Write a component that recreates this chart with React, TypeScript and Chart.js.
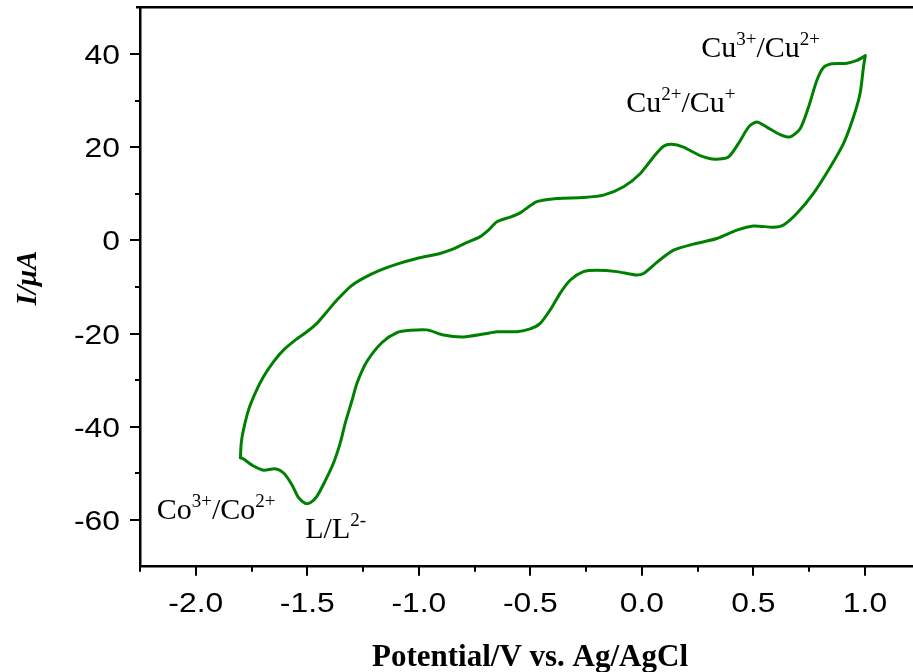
import { useEffect, useRef } from 'react';
import { Chart, registerables } from 'chart.js';

Chart.register(...registerables);

// Forward (anodic) scan: -1.8 V -> 1.0 V
const forwardPotential = [
  -1.800, -1.796, -1.786, -1.763, -1.733, -1.696, -1.651, -1.606, -1.554, -1.502,
  -1.457, -1.412, -1.367, -1.307, -1.248, -1.173, -1.098, -1.009, -0.905,
  -0.860, -0.800, -0.725, -0.688, -0.650, -0.590, -0.546, -0.471, -0.381, -0.262,
  -0.172, -0.082, -0.008, 0.052, 0.097, 0.134, 0.186, 0.261, 0.329, 0.388,
  0.433, 0.478, 0.515, 0.560, 0.620, 0.665, 0.710, 0.747, 0.784, 0.814,
  0.852, 0.919, 0.964, 1.001,
];
const forwardCurrent = [
  -46.6, -43.4, -40.6, -36.3, -32.7, -29.2, -26.0, -23.5, -21.4, -19.6,
  -17.8, -15.3, -12.8, -9.9, -8.1, -6.4, -5.1, -3.9, -2.8,
  -2.1, -0.8, 0.8, 2.2, 4.0, 5.0, 5.9, 8.3, 9.0, 9.2,
  9.7, 11.5, 14.3, 17.9, 20.2, 20.6, 20.0, 18.2, 17.4, 17.9,
  20.8, 24.3, 25.4, 24.3, 22.7, 22.2, 24.0, 28.6, 34.3, 37.1,
  37.9, 38.0, 38.6, 39.6,
];

// Reverse (cathodic) scan: 1.0 V -> -1.8 V
const reversePotential = [
  1.001, 0.993, 0.978, 0.948, 0.904, 0.844, 0.769, 0.695, 0.635, 0.590,
  0.500, 0.426, 0.336, 0.231, 0.142, 0.075, 0.007, -0.030, -0.112,
  -0.202, -0.262, -0.321, -0.366, -0.411, -0.456, -0.501, -0.560, -0.650, -0.710,
  -0.800, -0.889, -0.964, -1.039, -1.098, -1.165, -1.233, -1.277, -1.300,
  -1.330, -1.352, -1.382, -1.420, -1.457, -1.487, -1.509, -1.539, -1.569, -1.606,
  -1.644, -1.696, -1.741, -1.786, -1.800,
];
const reverseCurrent = [
  39.6, 37.1, 31.5, 26.4, 20.8, 15.7, 10.1, 5.8, 3.3, 2.8,
  3.1, 2.2, 0.4, -0.8, -2.1, -4.4, -7.1, -7.4, -6.7,
  -6.4, -6.7, -8.5, -11.3, -14.9, -17.8, -19.0, -19.6, -19.6, -20.1,
  -20.7, -20.3, -19.2, -19.3, -19.8, -21.9, -26.0, -30.6, -34.4,
  -39.2, -43.4, -47.7, -51.6, -54.9, -56.3, -56.4, -55.2, -52.4, -49.9,
  -49.0, -49.3, -48.4, -46.9, -46.6,
];

const xMajorTicks = [-2.0, -1.5, -1.0, -0.5, 0.0, 0.5, 1.0];
const xTickLabels = ['-2.0', '-1.5', '-1.0', '-0.5', '0.0', '0.5', '1.0'];
const xMinorTicks = [-2.25, -1.75, -1.25, -0.75, -0.25, 0.25, 0.75];
const yMajorTicks = [40, 20, 0, -20, -40, -60];
const yTickLabels = ['40', '20', '0', '-20', '-40', '-60'];
const yMinorTicks = [30, 10, -10, -30, -50];

const xAxisTitle = 'Potential/V vs. Ag/AgCl';
const yAxisTitle = 'I/μA';

// Peak annotations: text pieces (superscript flag) anchored in data coordinates
const annotationParts: [string, boolean][][] = [
  [['Cu', false], ['3+', true], ['/Cu', false], ['2+', true]],
  [['Cu', false], ['2+', true], ['/Cu', false], ['+', true]],
  [['Co', false], ['3+', true], ['/Co', false], ['2+', true]],
  [['L/L', false], ['2-', true]],
];
const annotationPotential = [0.266, -0.070, -2.175, -1.509];
const annotationCurrent = [39.3, 27.5, -59.8, -63.8];

const LINE_COLOR = 'rgb(0,128,0)';

function stretchedText(ctx: CanvasRenderingContext2D, text: string, x: number, y: number, sx: number, align: CanvasTextAlign) {
  ctx.save();
  ctx.translate(x, y);
  ctx.scale(sx, 1);
  ctx.textAlign = align;
  ctx.textBaseline = 'alphabetic';
  ctx.fillText(text, 0, 0);
  ctx.restore();
}

const axesPlugin = {
  id: 'originAxes',
  afterDraw(chart: any) {
    const ctx: CanvasRenderingContext2D = chart.ctx;
    const xs = chart.scales.x;
    const ys = chart.scales.y;
    const area = chart.chartArea;
    ctx.save();
    ctx.strokeStyle = '#000';
    ctx.fillStyle = '#000';
    // top frame line
    ctx.lineWidth = 2.5;
    ctx.beginPath();
    ctx.moveTo(area.left - 4, area.top);
    ctx.lineTo(chart.width, area.top);
    ctx.stroke();

    // ticks
    ctx.lineWidth = 2;
    ctx.lineCap = 'butt';
    const tickX = (vals: number[], len: number) => {
      vals.forEach((v) => {
        const px = Math.round(xs.getPixelForValue(v));
        ctx.beginPath();
        ctx.moveTo(px, area.bottom);
        ctx.lineTo(px, area.bottom + len);
        ctx.stroke();
      });
    };
    const tickY = (vals: number[], len: number) => {
      vals.forEach((v) => {
        const py = Math.round(ys.getPixelForValue(v));
        ctx.beginPath();
        ctx.moveTo(area.left, py);
        ctx.lineTo(area.left - len, py);
        ctx.stroke();
      });
    };
    tickX(xMajorTicks, 9);
    tickX(xMinorTicks, 5);
    tickY(yMajorTicks, 10);
    tickY(yMinorTicks, 5);

    // tick labels
    ctx.font = '27px "Liberation Sans", Arial, sans-serif';
    xMajorTicks.forEach((v, i) => {
      stretchedText(ctx, xTickLabels[i], xs.getPixelForValue(v), area.bottom + 45, 1.18, 'center');
    });
    yMajorTicks.forEach((v, i) => {
      stretchedText(ctx, yTickLabels[i], area.left - 20, ys.getPixelForValue(v) + 10, 1.18, 'right');
    });

    // axis titles
    ctx.font = 'bold 31px "Liberation Serif", "Times New Roman", serif';
    stretchedText(ctx, xAxisTitle, 530, 666, 1.0, 'center');

    ctx.save();
    ctx.translate(35.5, 278);
    ctx.rotate(-Math.PI / 2);
    ctx.font = 'italic bold 29px "Liberation Serif", "Times New Roman", serif';
    ctx.textAlign = 'center';
    ctx.textBaseline = 'alphabetic';
    ctx.fillText(yAxisTitle, 0, 0);
    ctx.restore();

    // annotations
    ctx.textAlign = 'left';
    ctx.textBaseline = 'alphabetic';
    annotationParts.forEach((parts, k) => {
      let x = xs.getPixelForValue(annotationPotential[k]);
      const y = ys.getPixelForValue(annotationCurrent[k]);
      parts.forEach(([txt, sup]) => {
        ctx.font = sup ? '19px "Liberation Serif", serif' : '30px "Liberation Serif", serif';
        ctx.fillText(txt, x, sup ? y - 12 : y);
        x += ctx.measureText(txt).width;
      });
    });
    ctx.restore();
  },
};

export default function App() {
  const ref = useRef<HTMLCanvasElement | null>(null);

  useEffect(() => {
    if (!ref.current) return;
    const forward = forwardPotential.map((x, i) => ({ x, y: forwardCurrent[i] }));
    const reverse = reversePotential.map((x, i) => ({ x, y: reverseCurrent[i] }));
    const lineStyle = { showLine: true, borderColor: LINE_COLOR, borderWidth: 3, pointRadius: 0, tension: 0.25, borderCapStyle: 'round', borderJoinStyle: 'round' };
    const chart = new Chart(ref.current, {
      type: 'scatter',
      data: {
        datasets: [
          { data: forward, ...lineStyle },
          { data: reverse, ...lineStyle },
        ],
      },
      options: {
        animation: false,
        responsive: false,
        devicePixelRatio: 1,
        layout: { padding: { left: 0, top: 7.3, right: 9.25, bottom: 0 } },
        plugins: { legend: { display: false }, tooltip: { enabled: false } },
        scales: {
          x: {
            type: 'linear',
            min: -2.25,
            max: 1.25,
            grid: { display: false },
            border: { display: true, color: '#000', width: 2.5 },
            ticks: { display: false },
            afterFit: (s: any) => { s.height = 105.3; },
          },
          y: {
            type: 'linear',
            min: -70,
            max: 50,
            grid: { display: false },
            border: { display: true, color: '#000', width: 2.5 },
            ticks: { display: false },
            afterFit: (s: any) => { s.width = 140; },
          },
        },
      } as any,
      plugins: [axesPlugin],
    });
    return () => chart.destroy();
  }, []);

  return (
    <div style={{ position: 'fixed', left: 0, top: 0, width: 913, height: 672, overflow: 'hidden', background: '#fff' }}>
      <canvas ref={ref} width={930} height={672} style={{ display: 'block' }} />
    </div>
  );
}
